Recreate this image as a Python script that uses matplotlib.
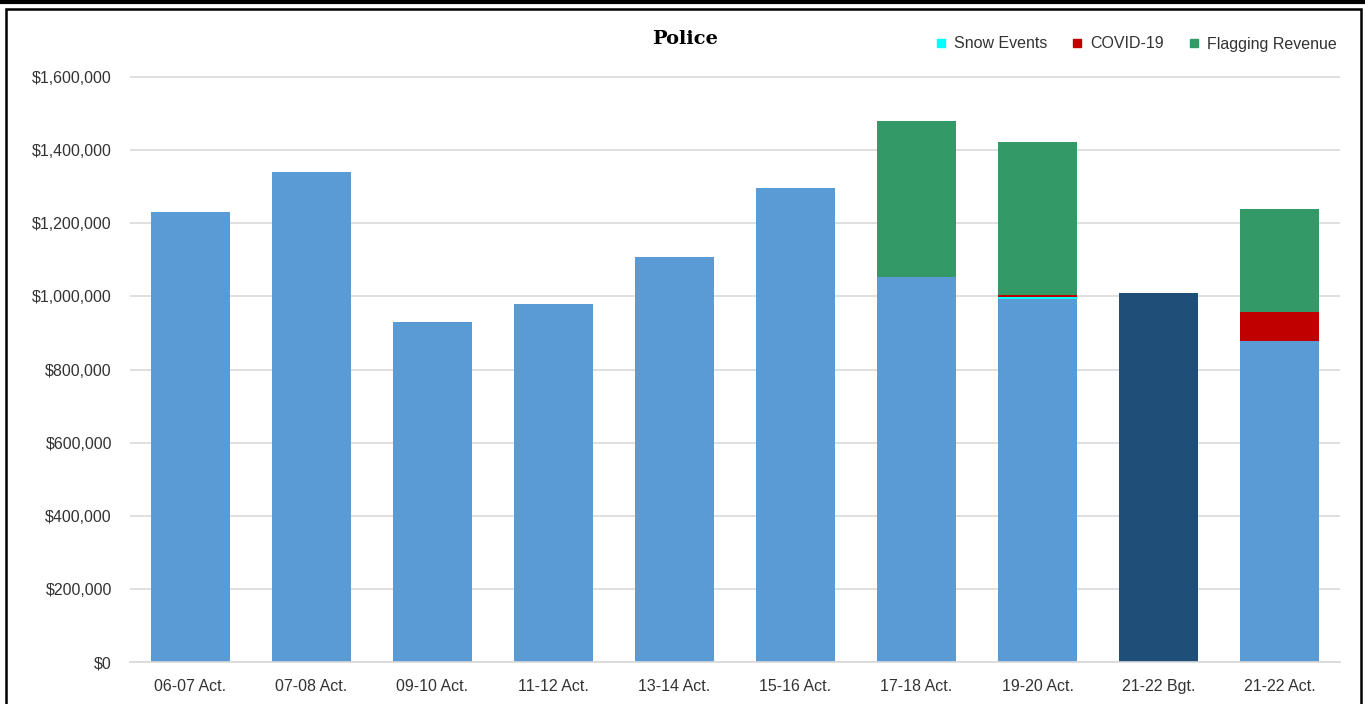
import matplotlib.pyplot as plt
from matplotlib.lines import Line2D
from matplotlib.patches import Rectangle
from matplotlib.ticker import FuncFormatter

# Police revenue by fiscal year
years = ["06-07 Act.", "07-08 Act.", "09-10 Act.", "11-12 Act.", "13-14 Act.",
         "15-16 Act.", "17-18 Act.", "19-20 Act.", "21-22 Bgt.", "21-22 Act."]
base = [1232000, 1341000, 931000, 980000, 1109000,
        1297000, 1054000, 994000, 1008000, 879000]
snow = [0, 0, 0, 0, 0, 0, 0, 5000, 0, 0]
covid = [0, 0, 0, 0, 0, 0, 0, 6000, 0, 79000]
flagging = [0, 0, 0, 0, 0, 0, 427000, 418000, 0, 282000]

BLUE = "#5B9BD5"
NAVY = "#1F4E79"
CYAN = "#00FFFF"
RED = "#C00000"
GREEN = "#339966"

plt.rcParams["font.family"] = ["Liberation Sans", "DejaVu Sans"]


def money(v, _):
    return f"${v:,.0f}"


def main() -> None:
    fig = plt.figure(figsize=(13.65, 7.04), dpi=100)
    ymax = 1600000 * 1.002
    ax = fig.add_axes([130 / 1365, 1 - 662 / 704, 1210 / 1365,
                       585 * 1.002 / 704])

    x = list(range(len(years)))
    width = 0.645
    base_colors = [NAVY if "Bgt" in y else BLUE for y in years]

    ax.bar(x, base, width, color=base_colors, zorder=2)
    bottom = list(base)
    for vals, color in [(snow, CYAN), (covid, RED), (flagging, GREEN)]:
        ax.bar(x, vals, width, bottom=bottom, color=color, zorder=2)
        bottom = [b + v for b, v in zip(bottom, vals)]

    ax.set_xlim(-0.5, len(years) - 0.5)
    ax.set_ylim(0, ymax)
    ax.set_yticks(range(0, 1600001, 200000))
    ax.yaxis.set_major_formatter(FuncFormatter(money))
    ax.set_xticks(x)
    ax.set_xticklabels(years)
    ax.tick_params(axis="both", length=0, labelsize=11.5, colors="#333333")
    ax.tick_params(axis="y", pad=13)
    ax.tick_params(axis="x", pad=12)
    ax.grid(axis="y", color="#D9D9D9", linewidth=1.2, zorder=0)
    for side in ["top", "right", "left"]:
        ax.spines[side].set_visible(False)
    ax.spines["bottom"].set_color("#D9D9D9")
    ax.spines["bottom"].set_linewidth(1.2)

    fig.text(685 / 1365, 1 - 39 / 704, "Police", ha="center", va="center",
             fontsize=14, fontweight="bold", family="DejaVu Serif")

    handles = [Line2D([], [], marker="s", linestyle="none", markersize=6,
                      color=c, label=lab)
               for c, lab in [(CYAN, "Snow Events"), (RED, "COVID-19"),
                              (GREEN, "Flagging Revenue")]]
    fig.legend(handles=handles, loc="center right", ncol=3, frameon=False,
               bbox_to_anchor=(1351 / 1365, 1 - 44 / 704), fontsize=11.5,
               handletextpad=-0.2, columnspacing=0.9, labelcolor="#333333")

    # outer frame lines
    fig.add_artist(Line2D([0, 1], [1 - 1.5 / 704, 1 - 1.5 / 704],
                          color="black", linewidth=3, transform=fig.transFigure))
    fig.add_artist(Rectangle((6 / 1365, -0.05), 1355 / 1365, 1.05 - 9 / 704,
                             fill=False, edgecolor="black", linewidth=1.8,
                             transform=fig.transFigure))

    fig.savefig("out.png", dpi=100)


if __name__ == "__main__":
    main()
